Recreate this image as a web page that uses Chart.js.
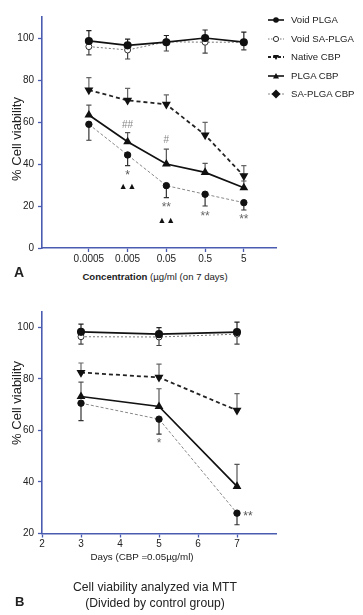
<!DOCTYPE html>
<html><head><meta charset="utf-8">
<script src="https://cdn.jsdelivr.net/npm/chart.js@4.4.1/dist/chart.umd.min.js"></script>
<style>
html,body{margin:0;padding:0;background:#fff;width:363px;height:615px;overflow:hidden;font-family:"Liberation Sans",Arial,sans-serif;color:#222}
canvas{position:absolute;left:0}
#cA{top:0}
#cB{top:295px}
.t{position:absolute;white-space:nowrap;line-height:1}
.yt{position:absolute;white-space:nowrap;font-size:13px;line-height:1;transform:translate(-50%,-50%) rotate(-90deg)}
.lg{position:absolute;left:267px;height:12px;font-size:9.6px;line-height:12px;white-space:nowrap;color:#222}
.lg svg{position:absolute;left:0;top:1px}
.lg span{position:absolute;left:24px;top:0}
</style>
</head><body>
<canvas id="cA" width="363" height="270"></canvas>
<canvas id="cB" width="363" height="265"></canvas>

<div class="yt" style="left:16px;top:139px">% Cell viability</div>
<div class="yt" style="left:16px;top:403px">% Cell viability</div>
<div class="t" style="left:14px;top:265px;font-size:14px;font-weight:bold">A</div>
<div class="t" style="left:155px;top:277px;font-size:9.6px;transform:translate(-50%,-50%)"><b>Concentration</b> (µg/ml (on 7 days)</div>
<div class="t" style="left:142px;top:557px;font-size:9.8px;transform:translate(-50%,-50%)">Days (CBP =0.05µg/ml)</div>
<div class="t" style="left:155px;top:587px;font-size:12.2px;transform:translate(-50%,-50%)">Cell viability analyzed via MTT</div>
<div class="t" style="left:155px;top:603px;font-size:12.2px;transform:translate(-50%,-50%)">(Divided by control group)</div>
<div class="t" style="left:15px;top:595px;font-size:13px;font-weight:bold">B</div>

<div class="lg" style="top:14px"><svg width="20" height="10"><line x1="1" y1="5" x2="17" y2="5" stroke="#111" stroke-width="1.6"/><circle cx="9" cy="5" r="2.8" fill="#111"/></svg><span>Void PLGA</span></div>
<div class="lg" style="top:33px"><svg width="20" height="10"><line x1="1" y1="5" x2="17" y2="5" stroke="#777" stroke-width="1" stroke-dasharray="1.5,1.5"/><circle cx="9" cy="5" r="2.6" fill="#fff" stroke="#333" stroke-width="1"/></svg><span>Void SA-PLGA</span></div>
<div class="lg" style="top:51px"><svg width="20" height="10"><line x1="1" y1="5" x2="17" y2="5" stroke="#222" stroke-width="1.8" stroke-dasharray="3,2"/><polygon points="6,3 12,3 9,8" fill="#111"/></svg><span>Native CBP</span></div>
<div class="lg" style="top:70px"><svg width="20" height="10"><line x1="1" y1="5" x2="17" y2="5" stroke="#111" stroke-width="1.6"/><polygon points="6,7.5 12,7.5 9,2" fill="#111"/></svg><span>PLGA CBP</span></div>
<div class="lg" style="top:88px"><svg width="20" height="10"><line x1="1" y1="5" x2="17" y2="5" stroke="#888" stroke-width="1" stroke-dasharray="2,1.5"/><polygon points="9,0.5 13.5,5 9,9.5 4.5,5" fill="#111"/></svg><span>SA-PLGA CBP</span></div>

<script>
// ---------- Panel A data (7 days, by concentration) ----------
const concLabels = ['0.0005', '0.005', '0.05', '0.5', '5'];
const concIndex = [0, 1, 2, 3, 4];
const aVoidPLGA   = [98.6, 96.5, 98.0, 100.0, 98.0];
const aVoidPLGAsd = [4.9, 3.0, 3.2, 3.8, 4.8];
const aVoidSA     = [95.9, 94.3, 98.2, 98.0, 98.0];
const aVoidSAsd   = [3.9, 4.3, 4.4, 5.2, 3.7];
const aNative     = [75.2, 70.3, 68.4, 53.8, 34.3];
const aNativesd   = [5.9, 5.7, 4.5, 6.0, 4.9];
const aPLGACBP    = [63.3, 50.6, 40.0, 36.0, 28.7];
const aPLGACBPsd  = [4.7, 4.3, 7.1, 4.3, 3.2];
const aSACBP      = [58.9, 44.3, 29.7, 25.6, 21.6];
const aSACBPsd    = [7.6, 5.1, 5.7, 5.6, 3.5];
const aYTicks = [0, 20, 40, 60, 80, 100];

// ---------- Panel B data (0.05 µg/ml, by day) ----------
const days = [3, 5, 7];
const dayTicks = [2, 3, 4, 5, 6, 7];
const bVoidPLGA   = [98.3, 97.4, 98.2];
const bVoidPLGAsd = [3.0, 2.5, 3.9];
const bVoidSA     = [96.4, 96.3, 97.4];
const bVoidSAsd   = [2.9, 3.3, 3.9];
const bNative     = [82.5, 80.6, 67.8];
const bNativesd   = [3.7, 5.2, 6.5];
const bPLGACBP    = [73.2, 69.3, 38.3];
const bPLGACBPsd  = [5.6, 6.9, 8.5];
const bSACBP      = [70.6, 64.4, 27.9];
const bSACBPsd    = [6.8, 5.8, 4.5];
const bYTicks = [20, 40, 60, 80, 100];

// significance marks
const aMarks = [
  {x: 1, y: 58.6, t: '##', c: '#888', f: '10px'},
  {x: 2, y: 51.4, t: '#',  c: '#888', f: '10px'},
  {x: 1, y: 34.6, t: '*',  c: '#555', f: '12px'},
  {x: 1, y: 29.3, t: '▲▲', c: '#111', f: '9px'},
  {x: 2, y: 19.3, t: '**', c: '#666', f: '12px'},
  {x: 2, y: 13.2, t: '▲▲', c: '#111', f: '9px'},
  {x: 3, y: 15.0, t: '**', c: '#666', f: '12px'},
  {x: 4, y: 13.6, t: '**', c: '#666', f: '12px'}
];
const bMarks = [
  {x: 5, y: 54.8, t: '*', c: '#666', f: '12px'},
  {x: 7.28, y: 26.6, t: '**', c: '#555', f: '12px'}
];

const FONT = '"Liberation Sans", Arial, sans-serif';
const AXIS = '#4a5cb0';

function pts(xs, ys) { return xs.map((x, i) => ({x: x, y: ys[i]})); }

function makeSets(x, vp, vpsd, vs, vssd, nc, ncsd, pc, pcsd, sc, scsd) {
  return [
    {label: 'Void PLGA', data: pts(x, vp), err: vpsd, errDir: 1, errColor: '#222',
     borderColor: '#111', borderWidth: 1.7, pointStyle: 'circle', pointRadius: 3.2,
     pointBackgroundColor: '#111', pointBorderColor: '#111'},
    {label: 'Void SA-PLGA', data: pts(x, vs), err: vssd, errDir: -1, errColor: '#444',
     borderColor: '#777', borderWidth: 1, borderDash: [2, 2], pointStyle: 'circle', pointRadius: 3,
     pointBackgroundColor: '#fff', pointBorderColor: '#333', pointBorderWidth: 1},
    {label: 'Native CBP', data: pts(x, nc), err: ncsd, errDir: 1, errColor: '#666',
     borderColor: '#222', borderWidth: 1.8, borderDash: [4, 3], pointStyle: 'triangle', rotation: 180, pointRadius: 3.4,
     pointBackgroundColor: '#111', pointBorderColor: '#111'},
    {label: 'PLGA CBP', data: pts(x, pc), err: pcsd, errDir: 1, errColor: '#555',
     borderColor: '#111', borderWidth: 1.7, pointStyle: 'triangle', pointRadius: 3.4,
     pointBackgroundColor: '#111', pointBorderColor: '#111'},
    {label: 'SA-PLGA CBP', data: pts(x, sc), err: scsd, errDir: -1, errColor: '#333',
     borderColor: '#888', borderWidth: 1, borderDash: [3, 2], pointStyle: 'circle', pointRadius: 3.2,
     pointBackgroundColor: '#111', pointBorderColor: '#111'}
  ];
}

const errorBars = {
  id: 'errorBars',
  beforeDatasetsDraw(chart) {
    const ctx = chart.ctx, xs = chart.scales.x, ys = chart.scales.y;
    chart.data.datasets.forEach(ds => {
      if (!ds.err) return;
      ctx.save();
      ctx.strokeStyle = ds.errColor; ctx.lineWidth = 1.2; ctx.setLineDash([]);
      ds.data.forEach((p, j) => {
        const x = xs.getPixelForValue(p.x);
        const y0 = ys.getPixelForValue(p.y);
        const y1 = ys.getPixelForValue(p.y + ds.errDir * ds.err[j]);
        ctx.beginPath();
        ctx.moveTo(x, y0); ctx.lineTo(x, y1);
        ctx.moveTo(x - 2.6, y1); ctx.lineTo(x + 2.6, y1);
        ctx.stroke();
      });
      ctx.restore();
    });
  }
};

function marksPlugin(items) {
  return {
    id: 'sigMarks',
    afterDatasetsDraw(chart) {
      const ctx = chart.ctx, xs = chart.scales.x, ys = chart.scales.y;
      ctx.save();
      ctx.textAlign = 'center'; ctx.textBaseline = 'middle';
      items.forEach(a => {
        ctx.fillStyle = a.c;
        ctx.font = a.f + ' ' + FONT + ', "DejaVu Sans"';
        ctx.fillText(a.t, xs.getPixelForValue(a.x), ys.getPixelForValue(a.y));
      });
      ctx.restore();
    }
  };
}

function axisCommon() {
  return {
    grid: {display: true, drawOnChartArea: false, drawTicks: true, tickLength: 4, color: AXIS, tickWidth: 1.3},
    border: {display: true, color: AXIS, width: 1.6}
  };
}

function build(canvasId, sets, opts) {
  return new Chart(document.getElementById(canvasId), {
    type: 'line',
    data: {datasets: sets},
    options: {
      responsive: false, animation: false,
      layout: {padding: {left: 0, top: 17, right: 87, bottom: 0}},
      plugins: {legend: {display: false}, tooltip: {enabled: false}},
      elements: {line: {tension: 0, fill: false}},
      scales: {
        x: Object.assign(axisCommon(), {
          type: 'linear', min: opts.xmin, max: opts.xmax,
          afterBuildTicks: s => { s.ticks = opts.xticks.map(v => ({value: v})); },
          afterFit: s => { s.height = opts.xh; },
          ticks: {color: '#222', font: {family: FONT, size: 10}, padding: 1, maxRotation: 0, autoSkip: false,
                  callback: opts.xlabel}
        }),
        y: Object.assign(axisCommon(), {
          type: 'linear', min: opts.ymin, max: opts.ymax,
          afterBuildTicks: s => { s.ticks = opts.yticks.map(v => ({value: v})); },
          afterFit: s => { s.width = 42; },
          ticks: {color: '#222', font: {family: FONT, size: 10}, padding: 4}
        })
      }
    },
    plugins: [errorBars, marksPlugin(opts.marks)]
  });
}

build('cA',
  makeSets(concIndex, aVoidPLGA, aVoidPLGAsd, aVoidSA, aVoidSAsd, aNative, aNativesd, aPLGACBP, aPLGACBPsd, aSACBP, aSACBPsd),
  {xmin: -1.21, xmax: 4.83, xticks: concIndex, xlabel: v => concLabels[v] !== undefined ? concLabels[v] : '',
   ymin: 0, ymax: 110, yticks: aYTicks, xh: 22, marks: aMarks});

build('cB',
  makeSets(days, bVoidPLGA, bVoidPLGAsd, bVoidSA, bVoidSAsd, bNative, bNativesd, bPLGACBP, bPLGACBPsd, bSACBP, bSACBPsd),
  {xmin: 2, xmax: 8, xticks: dayTicks, xlabel: v => String(v),
   ymin: 20, ymax: 106, yticks: bYTicks, xh: 26.5, marks: bMarks});
</script>
</body></html>
